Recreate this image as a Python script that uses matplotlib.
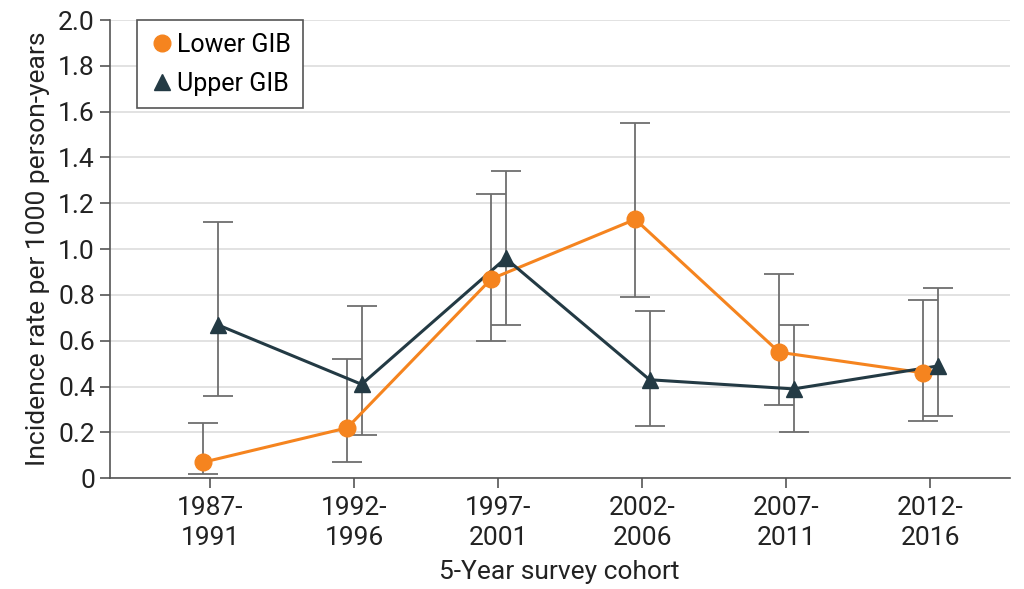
import numpy as np
import matplotlib.pyplot as plt

plt.rcParams['font.family'] = ['Roboto', 'DejaVu Sans']

cohorts = ['1987-\n1991', '1992-\n1996', '1997-\n2001', '2002-\n2006', '2007-\n2011', '2012-\n2016']

lower_rate = [0.07, 0.22, 0.87, 1.13, 0.55, 0.46]
lower_lo = [0.02, 0.07, 0.60, 0.79, 0.32, 0.25]
lower_hi = [0.24, 0.52, 1.24, 1.55, 0.89, 0.78]

upper_rate = [0.67, 0.41, 0.96, 0.43, 0.39, 0.49]
upper_lo = [0.36, 0.19, 0.67, 0.23, 0.20, 0.27]
upper_hi = [1.12, 0.75, 1.34, 0.73, 0.67, 0.83]

orange = '#F5841F'
dark = '#233A44'
grey = '#6E6E6E'

fig = plt.figure(figsize=(10.24, 5.89), dpi=100)
ax = fig.add_axes([0.107, 0.188, 0.879, 0.778])

x = np.arange(len(cohorts))
off = 0.05

def draw(xs, rate, lo, hi, color, marker, ms, label):
    rate = np.array(rate)
    err = [rate - np.array(lo), np.array(hi) - rate]
    ax.errorbar(xs, rate, yerr=err, fmt='none', ecolor=grey, elinewidth=1.3,
                capsize=11, capthick=1.3, zorder=2)
    ax.plot(xs, rate, color=color, lw=2.2, zorder=3)
    ax.plot(xs, rate, linestyle='none', marker=marker, ms=ms, color=color,
            markeredgecolor=color, zorder=4, label=label)

draw(x - off, lower_rate, lower_lo, lower_hi, orange, 'o', 12, 'Lower GIB')
draw(x + off, upper_rate, upper_lo, upper_hi, dark, '^', 12, 'Upper GIB')

ax.set_xlim(-0.7, 5.55)
ax.set_ylim(0, 2.0)
ax.set_yticks(np.arange(0, 2.01, 0.2))
ax.set_yticklabels(['0'] + ['%.1f' % v for v in np.arange(0.2, 2.01, 0.2)])
ax.set_xticks(x)
ax.set_xticklabels(cohorts, linespacing=1.3)
ax.yaxis.grid(True, color='#DDDDDD', lw=1.2)
ax.set_axisbelow(True)
for s in ['top', 'right']:
    ax.spines[s].set_visible(False)
for s in ['left', 'bottom']:
    ax.spines[s].set_color('#555555')
    ax.spines[s].set_linewidth(1.2)
ax.tick_params(axis='both', labelsize=19, color='#555555', length=7, width=1.2,
               labelcolor='#222222')
ax.tick_params(axis='x', pad=6)
ax.set_ylabel('Incidence rate per 1000 person-years', fontsize=19, color='#222222',
              labelpad=6)
ax.set_xlabel('5-Year survey cohort', fontsize=19, color='#222222', labelpad=7)

leg = ax.legend(loc='upper left', bbox_to_anchor=(0.03, 1.0), borderaxespad=0,
                fontsize=18, handletextpad=0.1, handlelength=1.0, borderpad=0.5,
                labelspacing=0.6, fancybox=False, edgecolor='#555555',
                framealpha=1)
leg.get_frame().set_linewidth(1.2)

fig.savefig('out.png', dpi=100)
